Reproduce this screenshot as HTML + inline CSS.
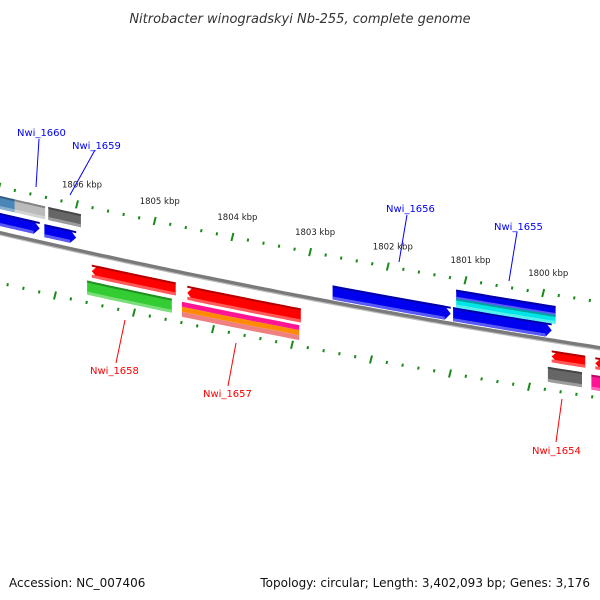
<!DOCTYPE html>
<html><head><meta charset="utf-8"><style>
html,body{margin:0;padding:0;background:#fff;width:600px;height:600px;overflow:hidden}
svg{display:block;font-family:"DejaVu Sans","Liberation Sans",sans-serif}
</style></head><body>
<svg id="chart" width="600" height="600" viewBox="0 0 600 600">
<text x="300" y="23" text-anchor="middle" font-size="13" font-style="italic" fill="#333">Nitrobacter winogradskyi Nb-255, complete genome</text>
<g id="layer"></g>
<text x="9" y="587" font-size="12" fill="#111">Accession: NC_007406</text>
<text x="590" y="587" text-anchor="end" font-size="12" fill="#111">Topology: circular; Length: 3,402,093 bp; Genes: 3,176</text>
</svg>
<script>
const majorKbp=[1806,1805,1804,1803,1802,1801,1800];
const lowerMajorKbp=[1806,1805,1804,1803,1802,1801,1800];
const geneNames=['steel','gray-light','gray-dark','blue-a','blue-b','nwi-1656','nwi-1655','blue-top','cyan-top','red-1658','red-1657','red-1654','red-right','green-1658','magenta','orange','salmon','gray-right','pink-right'];
const geneStart=[1807.2,1806.80,1806.37,1807.05,1806.42,1802.71,1801.16,1801.12,1801.12,1805.81,1804.58,1799.89,1799.33,1805.87,1804.65,1804.65,1804.65,1799.94,1799.38];
const geneEnd=[1806.80,1806.41,1805.95,1806.48,1806.01,1801.19,1799.89,1799.84,1799.84,1804.73,1803.12,1799.46,1799.0,1804.78,1803.14,1803.14,1803.14,1799.50,1799.0];
const geneOffset=[-37,-37,-37,-20,-19,-17,-17,-35,-26,11,12,10,10,28,29,34,39,27,28];
const geneHeight=[13,13,13,13,13,14,14,10,9,13,14,12,12,14,5,5,5,15,15];
const geneColor=['#4a86b8','#bbbbbb','#666666','#0000ee','#0000ee','#0000ee','#0000ee','#0000ee','#00e6e6','#ff0000','#ff0000','#ff0000','#ff0000','#33cc33','#ff1493','#ff8c00','#f08080','#666666','#ff1493'];
const geneDir=[0,0,0,1,1,1,1,0,0,-1,-1,-1,-1,0,0,0,0,0,0];
const labelNames=['Nwi_1660','Nwi_1659','Nwi_1656','Nwi_1655','Nwi_1658','Nwi_1657','Nwi_1654'];
const labelColor=['#0000ff','#0000ff','#0000ff','#0000ff','#ff0000','#ff0000','#ff0000'];
const labelPos=[[17,136],[72,149],[386,212],[494,230],[90,374],[203,397],[532,454]];
const labelLine=[[39,139,36,187],[95,150,70,195],[407,215,399,262],[517,232,509,281],[125,320,116,363],[236,343,228,386],[562,399,556,442]];

const NS='http://www.w3.org/2000/svg';
const layer=document.getElementById('layer');
function by(x){return 233+0.23*x-6.4e-5*x*x;}
function xu(k){return 77+(1806-k)*77.7;}
function xl(k){return 55+(1806-k)*79;}
function mk(t,a){const e=document.createElementNS(NS,t);for(const k in a)e.setAttribute(k,a[k]);layer.appendChild(e);return e;}
function shade(hex,f){let n=parseInt(hex.slice(1),16);let r=n>>16,g=(n>>8)&255,b=n&255;
 if(f>0){r+= (255-r)*f;g+=(255-g)*f;b+=(255-b)*f;}else{r*=1+f;g*=1+f;b*=1+f;}
 return 'rgb('+Math.round(r)+','+Math.round(g)+','+Math.round(b)+')';}
function band(x1,x2,o1,o2,dir,tip){
 const pts=[];const a=Math.min(x1,x2),b=Math.max(x1,x2);const n=12;
 let s=a,e=b;if(dir===1)e=b-tip;if(dir===-1)s=a+tip;
 for(let i=0;i<=n;i++){const x=s+(e-s)*i/n;pts.push([x,by(x)+o1]);}
 if(dir===1){const x=b;pts.push([x,by(x)+(o1+o2)/2]);}
 for(let i=n;i>=0;i--){const x=s+(e-s)*i/n;pts.push([x,by(x)+o2]);}
 if(dir===-1){pts.push([a,by(a)+(o1+o2)/2]);}
 return pts.map(p=>p[0].toFixed(1)+','+p[1].toFixed(1)).join(' ');
}
// backbone
{let d='';for(let x=-5;x<=605;x+=5){d+=(x===-5?'M':'L')+x+','+by(x).toFixed(1);}
 const bb=mk('path',{d:d,stroke:'#7a7a7a','stroke-width':4,fill:'none'});
 
 
 const hl=mk('path',{d:d,stroke:'#bdbdbd','stroke-width':1.2,fill:'none',transform:'translate(0,2)'});
 
 }
// upper ticks
for(let k=1807;k>=1799;k-=0.2){const kk=Math.round(k*10)/10;const x=xu(kk);if(x<-5||x>605)continue;
 const maj=Math.abs(kk-Math.round(kk))<0.01;const y=by(x)-46;
 const t=mk('line',{x1:x-(maj?1:0.3),y1:y+(maj?4:1.5),x2:x+(maj?1:0.3),y2:y-(maj?4:1.5),stroke:'#1a8a1a','stroke-width':2});
 
 }
majorKbp.forEach(k=>{const x=xu(k);const t=mk('text',{x:x-15,y:by(x)-63,'font-size':8.5,fill:'#222'});t.textContent=k+' kbp';
 
 });
// lower ticks
for(let k=1806.8;k>=1799;k-=0.2){const kk=Math.round(k*10)/10;const x=xl(kk);if(x<-5||x>605)continue;
 const maj=lowerMajorKbp.some(m=>Math.abs(m-kk)<0.01);const y=by(x)+50;
 const t=mk('line',{x1:x-(maj?1:0.3),y1:y+(maj?4:1.5),x2:x+(maj?1:0.3),y2:y-(maj?4:1.5),stroke:'#1a8a1a','stroke-width':2});
 
 }
// genes
geneNames.forEach((nm,i)=>{const x1=xu(geneStart[i]),x2=xu(geneEnd[i]);const o=geneOffset[i],h=geneHeight[i],c=geneColor[i],d=geneDir[i];
 const g=mk('polygon',{points:band(x1,x2,o,o+h,d,6),fill:c});
 
 
 if(h>8){const top=mk('polygon',{points:band(x1,x2,o,o+2,0,0),fill:shade(c,-0.3)});
  
  
  const bot=mk('polygon',{points:band(x1+(d===1?0:0),x2-(d===1?6:0),o+h-3,o+h,0,0),fill:shade(c,0.35)});
  
  }
});
// labels
labelNames.forEach((n,i)=>{const l=labelLine[i];
 const ln=mk('line',{x1:l[0],y1:l[1],x2:l[2],y2:l[3],stroke:labelColor[i],'stroke-width':1});
 
 
 const t=mk('text',{x:labelPos[i][0],y:labelPos[i][1],'font-size':10,fill:labelColor[i]});t.textContent=n;
 
 });
</script>
</body></html>
